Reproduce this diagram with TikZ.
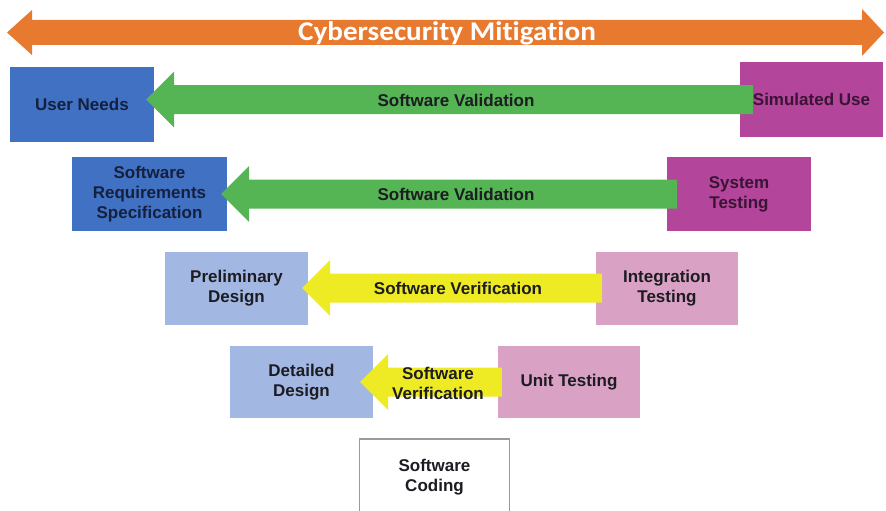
\documentclass[tikz,border=0pt]{standalone}
\usepackage{fontspec}
\setmainfont{Liberation Sans}
\newfontfamily\bannerfont[Ligatures=NoCommon]{Carlito}
\usetikzlibrary{calc}

\definecolor{mitorange}{HTML}{E87A30}
\definecolor{deepblue}{HTML}{4171C3}
\definecolor{paleblue}{HTML}{A2B7E1}
\definecolor{deepmagenta}{HTML}{B3469B}
\definecolor{palepink}{HTML}{D9A2C4}
\definecolor{valgreen}{HTML}{55B454}
\definecolor{veryellow}{HTML}{EEEA24}
\definecolor{ink}{HTML}{1C1C22}
\definecolor{navyink}{HTML}{15203F}
\definecolor{plumink}{HTML}{3A1434}
\definecolor{codeborder}{HTML}{9A9A9A}

\newcommand\boxfont{\fontsize{17}{20}\selectfont\bfseries}

% Block arrow pointing left, from the west side of box #2 to the east side of box #3.
% #4: how far the tip reaches into the left box, #5: how far the tail reaches into the right box.
\newcommand\flowarrow[5]{%
  \path let \p1=(#3.east), \p2=(#2.west) in [fill=#1]
    (\x1-#4pt,\y2) -- (\x1-#4pt+28pt,\y2+28pt) -- (\x1-#4pt+28pt,\y2+14.5pt)
    -- (\x2+#5pt,\y2+14.5pt) -- (\x2+#5pt,\y2-14.5pt)
    -- (\x1-#4pt+28pt,\y2-14.5pt) -- (\x1-#4pt+28pt,\y2-28pt) -- cycle;}

\begin{document}
\begin{tikzpicture}[x=1pt,y=-1pt,
  stage/.style={rectangle, inner sep=0pt, align=center, font=\boxfont, text=ink},
  darkleft/.style={stage, fill=deepblue, text=navyink},
  lightleft/.style={stage, fill=paleblue},
  darkright/.style={stage, fill=deepmagenta, text=plumink},
  lightright/.style={stage, fill=palepink},
  arrowlabel/.style={inner sep=0pt, align=center, font=\boxfont, text=ink}]
\useasboundingbox (0,0) rectangle (886,511);
\clip (0,0) rectangle (886,511);

% banner double arrow
\fill[mitorange] (7,32.5) -- (32,10) -- (32,20) -- (862,20) -- (862,9)
  -- (884,32.5) -- (862,56) -- (862,45) -- (32,45) -- (32,55) -- cycle;
\node[inner sep=0pt, text=white, font=\bannerfont\fontsize{27}{30}\selectfont\bfseries]
  (banner) at (447,33) {\scalebox{1.08}[1]{Cybersecurity Mitigation}};

% stages
\node[darkleft, minimum width=144, minimum height=75] (un) at (82,104.5) {User Needs};
\node[darkright, minimum width=143, minimum height=74] (su) at (811.5,99.5) {Simulated Use};
\node[darkleft, minimum width=155, minimum height=74] (srs) at (149.5,194) {Software\\Requirements\\Specification};
\node[darkright, minimum width=144, minimum height=74] (st) at (739,194) {System\\Testing};
\node[lightleft, minimum width=143, minimum height=73] (pd) at (236.5,288) {Preliminary\\Design};
\node[lightright, minimum width=142, minimum height=73] (it) at (667,288) {Integration\\Testing};
\node[lightleft, minimum width=143, minimum height=72] (dd) at (301.5,382) {Detailed\\Design};
\node[lightright, minimum width=142, minimum height=72] (ut) at (569,382) {Unit Testing};
\node[stage, fill=white, draw=codeborder, line width=1.5pt,
  minimum width=150, minimum height=76] (sc) at (434.5,477) {Software\\Coding};

% validation and verification arrows
\flowarrow{valgreen}{su}{un}{8}{13}
\flowarrow{valgreen}{st}{srs}{6}{10}
\flowarrow{veryellow}{it}{pd}{6}{6}
\flowarrow{veryellow}{ut}{dd}{13}{4}

\node[arrowlabel] (v1) at (456,100) {Software Validation};
\node[arrowlabel] (v2) at (456,194) {Software Validation};
\node[arrowlabel] (f1) at (458,288) {Software Verification};
\node[arrowlabel] (f2) at (438,383) {Software\\Verification};
\end{tikzpicture}
\end{document}
